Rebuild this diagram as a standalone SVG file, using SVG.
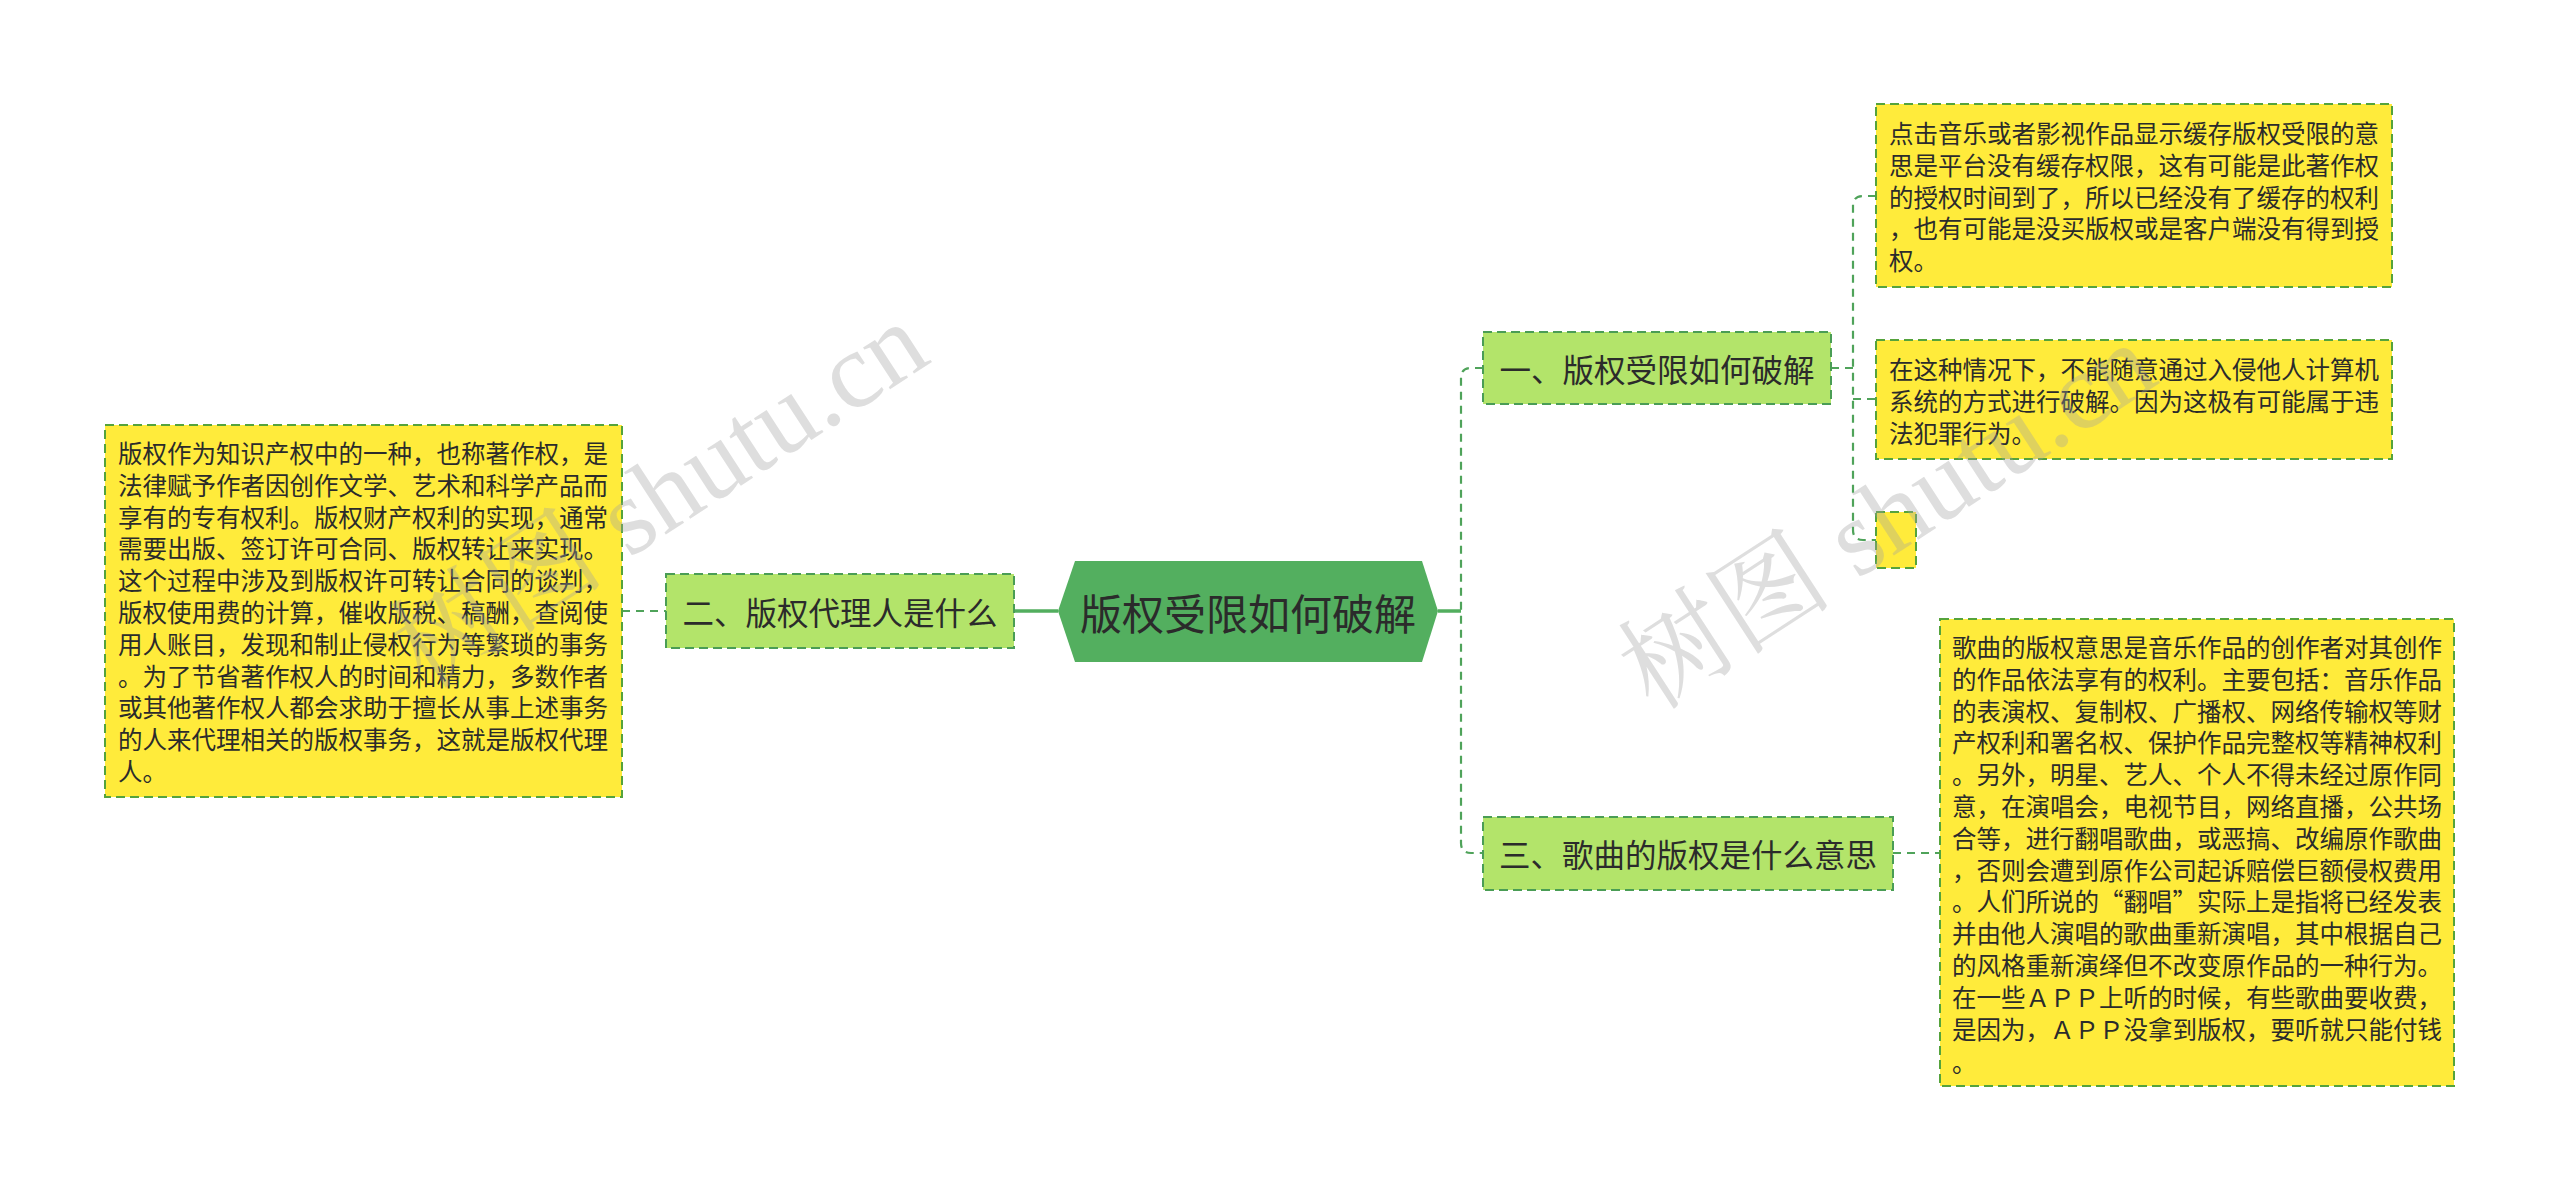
<svg xmlns="http://www.w3.org/2000/svg" width="2560" height="1192" viewBox="0 0 2560 1192">
<style>
text{font-family:"Noto Sans CJK SC","Noto Sans",sans-serif;fill:#2b2b2b}
.body{font-size:24.5px}
.node rect.sub{fill:#b3e46a;stroke:#4a9d55;stroke-width:2;stroke-dasharray:9 5}
.node rect.leaf{fill:#ffeb3b;stroke:#55a33c;stroke-width:2;stroke-dasharray:9 5}
.sub-t{font-size:31.5px}
.conn path{fill:none;stroke:#4fa35a;stroke-width:2.2;stroke-dasharray:8 6}
.conn path.solid{stroke:#52ae5e;stroke-width:3.5;stroke-dasharray:none}
.wm{font-family:"Liberation Serif","Noto Serif CJK SC","Noto Sans CJK SC",serif;font-size:108px;fill:#a0a0a0;fill-opacity:0.35}
</style>
<rect width="2560" height="1192" fill="#ffffff"/>
<g id="connectors" class="conn">
<path class="solid" d="M1014,611 H1058"/>
<path d="M622,611 H666"/>
<path class="solid" d="M1438,611 H1461"/>
<path d="M1483,368 H1471 Q1461,368 1461,378 V843 Q1461,853 1471,853 H1483"/>
<path d="M1831,368 H1853"/>
<path d="M1876,196 H1863 Q1853,196 1853,206 V530 Q1853,540 1863,540 H1876"/>
<path d="M1853,399 H1876"/>
<path d="M1893,853 H1940"/>
</g>
<g id="center" class="node">
<polygon points="1058,611 1075,561 1422,561 1438,611 1422,662 1075,662" fill="#53af5f"/>
<text x="1248" y="611" text-anchor="middle" dominant-baseline="central" style="font-size:42px">版权受限如何破解</text>
</g>
<g id="n2" class="node">
<rect class="sub" x="666" y="574" width="348" height="74"/>
<text class="sub-t" x="840" y="611" text-anchor="middle" dominant-baseline="central">二、版权代理人是什么</text>
</g>
<g id="n1" class="node">
<rect class="sub" x="1483" y="332" width="348" height="72"/>
<text class="sub-t" x="1657" y="368" text-anchor="middle" dominant-baseline="central">一、版权受限如何破解</text>
</g>
<g id="n3" class="node">
<rect class="sub" x="1483" y="817" width="410" height="73"/>
<text class="sub-t" x="1688" y="853" text-anchor="middle" dominant-baseline="central">三、歌曲的版权是什么意思</text>
</g>
<g id="leaf-left" class="node">
<rect class="leaf" x="105" y="425" width="517" height="372"/>
<text class="body" dominant-baseline="central">
<tspan x="118" y="452">版权作为知识产权中的一种，也称著作权，是</tspan>
<tspan x="118" y="483.8">法律赋予作者因创作文学、艺术和科学产品而</tspan>
<tspan x="118" y="515.6">享有的专有权利。版权财产权利的实现，通常</tspan>
<tspan x="118" y="547.4">需要出版、签订许可合同、版权转让来实现。</tspan>
<tspan x="118" y="579.2">这个过程中涉及到版权许可转让合同的谈判，</tspan>
<tspan x="118" y="611">版权使用费的计算，催收版税、稿酬，查阅使</tspan>
<tspan x="118" y="642.8">用人账目，发现和制止侵权行为等繁琐的事务</tspan>
<tspan x="118" y="674.6">。为了节省著作权人的时间和精力，多数作者</tspan>
<tspan x="118" y="706.4">或其他著作权人都会求助于擅长从事上述事务</tspan>
<tspan x="118" y="738.2">的人来代理相关的版权事务，这就是版权代理</tspan>
<tspan x="118" y="770">人。</tspan>
</text>
</g>
<g id="leaf-1" class="node">
<rect class="leaf" x="1876" y="104" width="516" height="183"/>
<text class="body" dominant-baseline="central">
<tspan x="1889" y="132">点击音乐或者影视作品显示缓存版权受限的意</tspan>
<tspan x="1889" y="163.8">思是平台没有缓存权限，这有可能是此著作权</tspan>
<tspan x="1889" y="195.6">的授权时间到了，所以已经没有了缓存的权利</tspan>
<tspan x="1889" y="227.4">，也有可能是没买版权或是客户端没有得到授</tspan>
<tspan x="1889" y="259.2">权。</tspan>
</text>
</g>
<g id="leaf-2" class="node">
<rect class="leaf" x="1876" y="340" width="516" height="119"/>
<text class="body" dominant-baseline="central">
<tspan x="1889" y="368">在这种情况下，不能随意通过入侵他人计算机</tspan>
<tspan x="1889" y="399.8">系统的方式进行破解。因为这极有可能属于违</tspan>
<tspan x="1889" y="431.6">法犯罪行为。</tspan>
</text>
</g>
<g id="leaf-3" class="node">
<rect class="leaf" x="1876" y="512" width="40" height="56"/>
</g>
<g id="leaf-4" class="node">
<rect class="leaf" x="1940" y="619" width="514" height="467"/>
<text class="body" dominant-baseline="central">
<tspan x="1952" y="646">歌曲的版权意思是音乐作品的创作者对其创作</tspan>
<tspan x="1952" y="677.8">的作品依法享有的权利。主要包括：音乐作品</tspan>
<tspan x="1952" y="709.6">的表演权、复制权、广播权、网络传输权等财</tspan>
<tspan x="1952" y="741.4">产权利和署名权、保护作品完整权等精神权利</tspan>
<tspan x="1952" y="773.2">。另外，明星、艺人、个人不得未经过原作同</tspan>
<tspan x="1952" y="805">意，在演唱会，电视节目，网络直播，公共场</tspan>
<tspan x="1952" y="836.8">合等，进行翻唱歌曲，或恶搞、改编原作歌曲</tspan>
<tspan x="1952" y="868.6">，否则会遭到原作公司起诉赔偿巨额侵权费用</tspan>
<tspan x="1952" y="900.4">。人们所说的“翻唱”实际上是指将已经发表</tspan>
<tspan x="1952" y="932.2">并由他人演唱的歌曲重新演唱，其中根据自己</tspan>
<tspan x="1952" y="964">的风格重新演绎但不改变原作品的一种行为。</tspan>
<tspan x="1952" y="995.8">在一些ＡＰＰ上听的时候，有些歌曲要收费，</tspan>
<tspan x="1952" y="1027.6">是因为，ＡＰＰ没拿到版权，要听就只能付钱</tspan>
<tspan x="1952" y="1061">。</tspan>
</text>
</g>
<g id="watermarks">
<text class="wm" transform="translate(425,691) rotate(-33)">树图 shutu.cn</text>
<text class="wm" transform="translate(1653,712) rotate(-33)">树图 shutu.cn</text>
</g>
</svg>
